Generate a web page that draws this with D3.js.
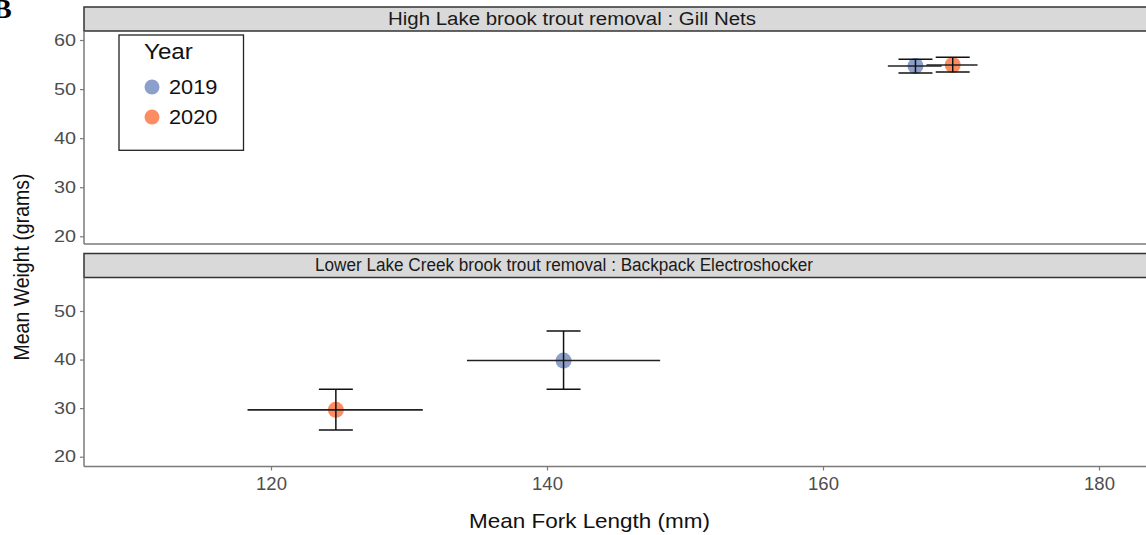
<!DOCTYPE html>
<html>
<head>
<meta charset="utf-8">
<script src="https://cdn.jsdelivr.net/npm/d3@7"></script>
<style>
  html, body { margin: 0; padding: 0; background: #fff; overflow: hidden; }
  svg { display: block; font-family: "Liberation Sans", Arial, sans-serif; }
</style>
</head>
<body>
<svg id="chart" width="1146" height="535"></svg>
<script>
// ---- data ----
const facets = [
  "High Lake brook trout removal : Gill Nets",
  "Lower Lake Creek brook trout removal : Backpack Electroshocker"
];
const years = ["2019", "2020"];
const yearColors = ["#8da0cb", "#fc8d62"];

// one entry per facet, ordered by year
const meanLength = [[166.7, 169.4], [141.2, 124.7]];
const lengthLo   = [[164.7, 167.5], [134.2, 118.3]];
const lengthHi   = [[168.6, 171.2], [148.2, 131.0]];
const meanWeight = [[54.7, 54.9], [39.8, 29.65]];
const weightLo   = [[53.3, 53.5], [33.9, 25.5]];
const weightHi   = [[56.1, 56.5], [45.9, 33.9]];

const xTicks = [120, 140, 160, 180];
const yTicks = [[20, 30, 40, 50, 60], [20, 30, 40, 50]];

// ---- layout ----
const svg = d3.select("#chart");
const left = 84, right = 1160;
const panels = [
  { stripTop: 7,     stripBot: 31,    top: 31,    bottom: 244,   y0: 236.3, y1: 40,  d: [20, 60], labelX: 572, labelW: 368 },
  { stripTop: 253.5, stripBot: 277.5, top: 277.5, bottom: 466.5, y0: 456.7, y1: 311, d: [20, 50], labelX: 564, labelW: 498 }
];

const x = d3.scaleLinear().domain([120, 180]).range([271, 1099]);

const axisGrey = "#7a7a7a";
const tickText = "#4d4d4d";

// text placed at (px, py), widened horizontally by sx
function wideText(sel, px, py, sx) {
  return sel.append("text")
    .attr("transform", `translate(${px},${py}) scale(${sx},1)`);
}

panels.forEach((p, i) => {
  const y = d3.scaleLinear().domain(p.d).range([p.y0, p.y1]);
  const g = svg.append("g");

  // strip
  g.append("rect")
    .attr("x", left).attr("y", p.stripTop)
    .attr("width", right - left).attr("height", p.stripBot - p.stripTop)
    .attr("fill", "#d9d9d9").attr("stroke", "#333").attr("stroke-width", 1.5);
  g.append("text")
    .attr("x", p.labelX - p.labelW / 2).attr("y", (p.stripTop + p.stripBot) / 2 + 1)
    .attr("dominant-baseline", "middle")
    .attr("textLength", p.labelW).attr("lengthAdjust", "spacingAndGlyphs")
    .attr("font-size", 18).attr("fill", "#1a1a1a")
    .text(facets[i]);

  // y axis
  const yAxis = g.append("g")
    .attr("transform", `translate(${left},0)`)
    .call(d3.axisLeft(y).tickValues(yTicks[i]).tickSize(4).tickPadding(4));
  yAxis.select(".domain").remove();
  yAxis.selectAll(".tick line").attr("stroke", axisGrey).attr("stroke-width", 1.2);
  yAxis.selectAll(".tick text").attr("fill", tickText).attr("font-size", 16.5)
    .attr("font-family", "Liberation Sans, Arial, sans-serif")
    .attr("x", null)
    .attr("transform", "translate(-8,0) scale(1.2,1)");
  g.append("line")
    .attr("x1", left).attr("x2", left).attr("y1", p.top).attr("y2", p.bottom)
    .attr("stroke", axisGrey).attr("stroke-width", 1.5);
  g.append("line")
    .attr("x1", left).attr("x2", right).attr("y1", p.bottom).attr("y2", p.bottom)
    .attr("stroke", axisGrey).attr("stroke-width", 1.5);

  // points
  years.forEach((yr, k) => {
    g.append("circle")
      .attr("cx", x(meanLength[i][k])).attr("cy", y(meanWeight[i][k]))
      .attr("r", 8).attr("fill", yearColors[k]);
  });

  // error bars
  years.forEach((yr, k) => {
    const cx = x(meanLength[i][k]), cy = y(meanWeight[i][k]);
    const cap = 17;
    // horizontal (length) bar
    g.append("line")
      .attr("x1", x(lengthLo[i][k])).attr("x2", x(lengthHi[i][k]))
      .attr("y1", cy).attr("y2", cy)
      .attr("stroke", "#222").attr("stroke-width", 1.6);
    // vertical (weight) bar with caps
    g.append("line")
      .attr("x1", cx).attr("x2", cx)
      .attr("y1", y(weightLo[i][k])).attr("y2", y(weightHi[i][k]))
      .attr("stroke", "#111").attr("stroke-width", 1.5);
    [weightLo[i][k], weightHi[i][k]].forEach(v => {
      g.append("line")
        .attr("x1", cx - cap).attr("x2", cx + cap)
        .attr("y1", y(v)).attr("y2", y(v))
        .attr("stroke", "#111").attr("stroke-width", 1.5);
    });
  });

  // x axis on bottom panel only
  if (i === panels.length - 1) {
    const xAxis = g.append("g")
      .attr("transform", `translate(0,${p.bottom})`)
      .call(d3.axisBottom(x).tickValues(xTicks).tickSize(4).tickPadding(6));
    xAxis.select(".domain").remove();
    xAxis.selectAll(".tick line").attr("stroke", axisGrey).attr("stroke-width", 1.2);
    xAxis.selectAll(".tick text").attr("fill", tickText).attr("font-size", 18.5)
      .attr("font-family", "Liberation Sans, Arial, sans-serif");
  }
});

// axis titles
svg.append("text")
  .attr("x", 469).attr("y", 528)
  .attr("textLength", 241).attr("lengthAdjust", "spacingAndGlyphs")
  .attr("font-size", 21).attr("fill", "#111")
  .text("Mean Fork Length (mm)");
svg.append("text")
  .attr("transform", "translate(29,267) rotate(-90) scale(1,1.1)")
  .attr("text-anchor", "middle").attr("font-size", 19.5).attr("fill", "#111")
  .text("Mean Weight (grams)");

// legend
const lg = svg.append("g");
lg.append("rect")
  .attr("x", 119).attr("y", 35).attr("width", 124.5).attr("height", 115.3)
  .attr("fill", "#fff").attr("stroke", "#222").attr("stroke-width", 1.3);
wideText(lg, 144, 59, 1.1)
  .attr("font-size", 22).attr("fill", "#111")
  .text("Year");
years.forEach((yr, k) => {
  const cy = 87 + k * 30;
  lg.append("circle").attr("cx", 152).attr("cy", cy).attr("r", 7.5).attr("fill", yearColors[k]);
  wideText(lg, 169, cy, 1.09)
    .attr("dominant-baseline", "central")
    .attr("font-size", 20).attr("fill", "#111")
    .text(yr);
});

// panel tag
svg.append("text")
  .attr("x", -7).attr("y", 18)
  .attr("font-family", "Liberation Serif, Times New Roman, serif")
  .attr("font-weight", "bold").attr("font-size", 28).attr("fill", "#000")
  .text("B");
</script>
</body>
</html>
